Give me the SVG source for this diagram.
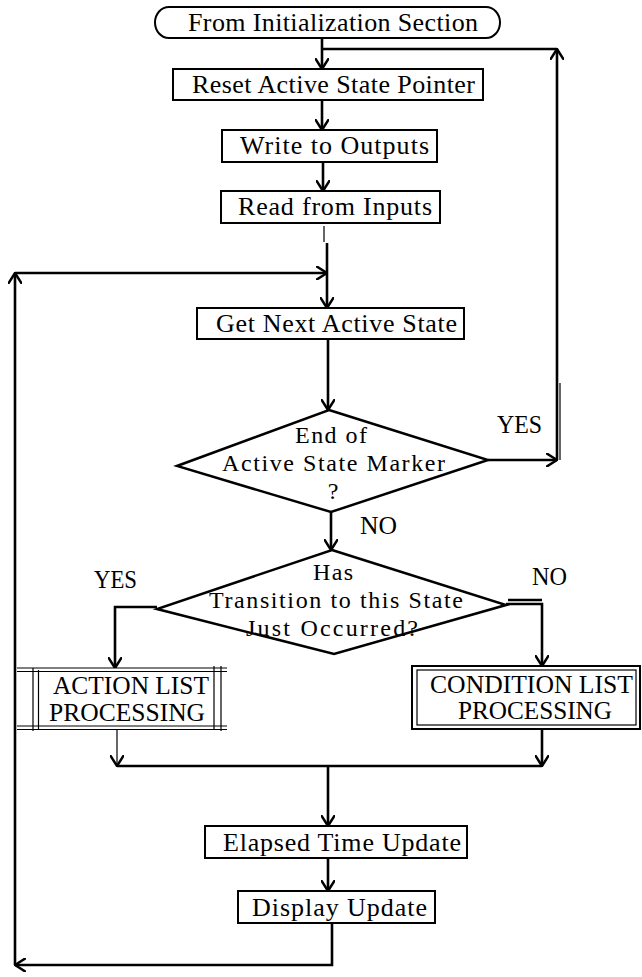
<svg xmlns="http://www.w3.org/2000/svg" width="642" height="977" viewBox="0 0 642 977">
<style>
.box{fill:#fff;stroke:#000;stroke-width:2}
.dia{fill:#fff;stroke:#000;stroke-width:2.5;stroke-linejoin:miter}
.ln{fill:none;stroke:#000;stroke-width:2.6}
.thin{fill:none;stroke:#000;stroke-width:1.2}
text{font-family:"Liberation Serif","Times New Roman",serif;font-size:26px;fill:#000}
.cap{font-size:25px}
.dt{font-size:24px}
.c{text-anchor:middle}
</style>
<defs>
<marker id="ah" viewBox="0 0 12 14" refX="11" refY="7" markerWidth="12" markerHeight="14" markerUnits="userSpaceOnUse" orient="auto">
<path d="M0,0 L11,7 L0,14" fill="none" stroke="#000" stroke-width="2.5"/>
</marker>
</defs>
<g id="connectors">
<path class="ln" d="M322,38 V69" marker-end="url(#ah)"/>
<path class="ln" d="M488,460 H557" marker-end="url(#ah)"/>
<path class="ln" d="M557,460 V49" marker-end="url(#ah)"/>
<path class="ln" d="M557,49 H322"/>
<path class="thin" d="M560,383 V460"/>
<path class="ln" d="M322,100 V130" marker-end="url(#ah)"/>
<path class="ln" d="M323,162 V191" marker-end="url(#ah)"/>
<path class="thin" d="M324,226 V242"/>
<path class="ln" d="M327,243 V308" marker-end="url(#ah)"/>
<path class="ln" d="M332,923 V965 H15" marker-end="url(#ah)"/>
<path class="ln" d="M15,965 V273" marker-end="url(#ah)"/>
<path class="ln" d="M15,273 H327" marker-end="url(#ah)"/>
<path class="ln" d="M328,339 V410" marker-end="url(#ah)"/>
<path class="ln" d="M331,512 V550" marker-end="url(#ah)"/>
<path class="ln" d="M157,607 H115 V668" marker-end="url(#ah)"/>
<path class="ln" d="M506,604 H542 V666" marker-end="url(#ah)"/>
<path class="ln" d="M508,600 H542"/>
<path class="thin" d="M117,730 V766" marker-end="url(#ah)"/>
<path class="ln" d="M117,766 H542"/>
<path class="ln" d="M542,729 V766" marker-end="url(#ah)"/>
<path class="ln" d="M328,766 V826" marker-end="url(#ah)"/>
<path class="ln" d="M328,858 V891" marker-end="url(#ah)"/>
</g>
<g id="start">
<rect class="box" x="155" y="7" width="345" height="31" rx="14" ry="15.5"/>
<text class="c" x="333" y="31" textLength="290" lengthAdjust="spacing">From Initialization Section</text>
</g>
<g id="reset">
<rect class="box" x="173" y="69" width="310" height="31"/>
<text class="c" x="333.5" y="93" textLength="283" lengthAdjust="spacing">Reset Active State Pointer</text>
</g>
<g id="write">
<rect class="box" x="222" y="130" width="215" height="32"/>
<text class="c" x="334.5" y="154" textLength="189" lengthAdjust="spacing">Write to Outputs</text>
</g>
<g id="read">
<rect class="box" x="221" y="191" width="219" height="32"/>
<text class="c" x="335" y="215" textLength="194" lengthAdjust="spacing">Read from Inputs</text>
</g>
<g id="getnext">
<rect class="box" x="197" y="308" width="267" height="31"/>
<text class="c" x="336.5" y="332" textLength="241" lengthAdjust="spacing">Get Next Active State</text>
</g>
<g id="endmarker">
<polygon class="dia" points="329,410 488,460 331,512 177,466"/>
<text class="c dt" x="331" y="443" textLength="72" lengthAdjust="spacing">End of</text>
<text class="c dt" x="333.5" y="471" textLength="223" lengthAdjust="spacing">Active State Marker</text>
<text class="c dt" x="333" y="499">?</text>
</g>
<g id="labels">
<text class="cap" x="497" y="433" textLength="45" lengthAdjust="spacingAndGlyphs">YES</text>
<text class="cap" x="360" y="534" textLength="37" lengthAdjust="spacingAndGlyphs">NO</text>
<text class="cap" x="94" y="588" textLength="43" lengthAdjust="spacingAndGlyphs">YES</text>
<text class="cap" x="532" y="585" textLength="35" lengthAdjust="spacingAndGlyphs">NO</text>
</g>
<g id="transition">
<polygon class="dia" points="332,550 506,605 334,654 157,609"/>
<text class="c dt" x="333" y="580" textLength="40" lengthAdjust="spacing">Has</text>
<text class="c dt" x="336" y="608" textLength="254" lengthAdjust="spacing">Transition to this State</text>
<text class="c dt" x="332" y="636" textLength="172" lengthAdjust="spacing">Just Occurred?</text>
</g>
<g id="action">
<rect x="17" y="668" width="210" height="61" fill="#fff"/>
<path class="thin" d="M17,668 H227 M17,671.5 H227 M17,726 H227 M17,729.5 H227 M33,668 V731 M38.5,670 V729 M214,666 V729 M221,666 V731" stroke-width="1.8"/>
<text class="c cap" x="131" y="694" textLength="156" lengthAdjust="spacingAndGlyphs">ACTION LIST</text>
<text class="c cap" x="127" y="721" textLength="156" lengthAdjust="spacingAndGlyphs">PROCESSING</text>
</g>
<g id="condition">
<rect class="box" x="412" y="666" width="228" height="63"/>
<rect x="417" y="670" width="219" height="55" fill="none" stroke="#000" stroke-width="1.2"/>
<text class="c cap" x="531.5" y="693" textLength="203" lengthAdjust="spacingAndGlyphs">CONDITION LIST</text>
<text class="c cap" x="535" y="719" textLength="154" lengthAdjust="spacingAndGlyphs">PROCESSING</text>
</g>
<g id="elapsed">
<rect class="box" x="205" y="826" width="262" height="32"/>
<text class="c" x="342" y="851" textLength="238" lengthAdjust="spacing">Elapsed Time Update</text>
</g>
<g id="display">
<rect class="box" x="238" y="891" width="197" height="32"/>
<text class="c" x="339.5" y="916" textLength="175" lengthAdjust="spacing">Display Update</text>
</g>
</svg>
